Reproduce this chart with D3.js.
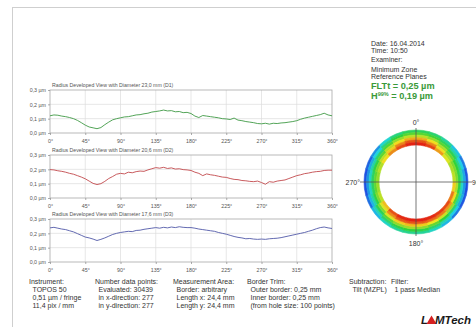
<!DOCTYPE html>
<html><head><meta charset="utf-8">
<script src="https://cdn.jsdelivr.net/npm/d3@7/dist/d3.min.js"></script>
<style>
html,body{margin:0;padding:0;background:#fff;}
svg{display:block;font-family:"Liberation Sans",Arial,sans-serif;}
</style></head>
<body>
<script>
// ---------- data ----------
const angles = d3.range(0, 361, 5);
const xTicks = [0,45,90,135,180,225,270,315,360];
const yTicks = [0,0.1,0.2,0.3];
const yTickLabels = ["0,0 µm","0,1 µm","0,2 µm","0,3 µm"];
const titles = [
  "Radius Developed View with Diameter 23,0 mm (D1)",
  "Radius Developed View with Diameter 20,6 mm (D2)",
  "Radius Developed View with Diameter 17,6 mm (D3)"
];
const d1 = [0.120,0.126,0.124,0.118,0.114,0.108,0.100,0.088,0.072,0.055,0.042,0.036,0.030,0.038,0.058,0.076,0.092,0.100,0.106,0.112,0.114,0.120,0.126,0.128,0.134,0.138,0.146,0.150,0.154,0.160,0.154,0.156,0.148,0.150,0.142,0.144,0.136,0.118,0.108,0.122,0.118,0.114,0.110,0.106,0.100,0.098,0.094,0.104,0.090,0.086,0.080,0.076,0.072,0.066,0.064,0.068,0.062,0.068,0.066,0.070,0.072,0.076,0.080,0.086,0.096,0.104,0.110,0.116,0.122,0.128,0.138,0.126,0.120];
const d2 = [0.198,0.196,0.190,0.186,0.180,0.172,0.166,0.156,0.146,0.134,0.118,0.102,0.094,0.100,0.116,0.136,0.150,0.166,0.172,0.168,0.180,0.176,0.184,0.188,0.186,0.196,0.204,0.212,0.208,0.214,0.206,0.210,0.202,0.204,0.198,0.196,0.192,0.180,0.172,0.156,0.168,0.162,0.158,0.152,0.146,0.144,0.136,0.130,0.128,0.122,0.120,0.116,0.114,0.118,0.108,0.096,0.114,0.110,0.118,0.122,0.126,0.136,0.146,0.156,0.162,0.170,0.174,0.180,0.184,0.186,0.192,0.194,0.194];
const d3v = [0.238,0.242,0.236,0.230,0.226,0.218,0.210,0.198,0.186,0.174,0.168,0.160,0.150,0.158,0.168,0.180,0.192,0.200,0.206,0.210,0.214,0.212,0.220,0.222,0.228,0.232,0.236,0.240,0.236,0.242,0.238,0.244,0.240,0.246,0.242,0.240,0.240,0.236,0.230,0.226,0.222,0.218,0.214,0.206,0.200,0.194,0.186,0.178,0.172,0.168,0.162,0.164,0.160,0.158,0.160,0.158,0.162,0.164,0.166,0.170,0.176,0.182,0.188,0.194,0.200,0.206,0.214,0.222,0.232,0.240,0.244,0.238,0.234];
const seriesColors = ["#3f9a45","#c2484c","#5159a8"];

// ring height map: 24 sectors (15°, clockwise from top) x 6 radial bands (outer -> inner), 0=blue .. 1=red
const ringSectors = d3.range(0, 360, 15);
const ringBand0 = [0.45,0.42,0.35,0.22,0.10,0.04,0.02,0.04,0.10,0.20,0.30,0.36,0.38,0.36,0.30,0.20,0.08,0.03,0.03,0.06,0.14,0.28,0.40,0.45];
const ringBand1 = [0.55,0.52,0.45,0.34,0.24,0.18,0.15,0.18,0.24,0.33,0.42,0.48,0.50,0.48,0.42,0.32,0.20,0.15,0.14,0.18,0.26,0.40,0.50,0.55];
const ringBand2 = [0.68,0.63,0.55,0.46,0.38,0.33,0.30,0.35,0.42,0.50,0.57,0.62,0.64,0.62,0.56,0.46,0.34,0.30,0.30,0.34,0.42,0.54,0.63,0.68];
const ringBand3 = [0.82,0.76,0.66,0.57,0.50,0.47,0.48,0.55,0.64,0.70,0.75,0.78,0.80,0.78,0.72,0.60,0.48,0.44,0.44,0.48,0.56,0.67,0.76,0.82];
const ringBand4 = [0.93,0.87,0.76,0.66,0.60,0.60,0.66,0.76,0.84,0.88,0.90,0.92,0.93,0.92,0.86,0.72,0.60,0.56,0.56,0.60,0.68,0.78,0.87,0.93];
const ringBand5 = [0.99,0.95,0.84,0.72,0.66,0.68,0.78,0.88,0.94,0.96,0.98,0.99,0.99,0.98,0.93,0.80,0.68,0.64,0.63,0.67,0.76,0.86,0.94,0.99];
const ringBands = [ringBand0,ringBand1,ringBand2,ringBand3,ringBand4,ringBand5];
const ringLabels = ["0°","90°","180°","270°"];

const infoLines = ["Date: 16.04.2014","Time: 10:50","Examiner:","Minimum Zone","Reference Planes"];
const footer = [
  {x:29, head:"Instrument:", lines:["TOPOS 50","0,51 µm / fringe","11,4 pix / mm"]},
  {x:95, head:"Number data points:", lines:["Evaluated: 30439","in x-direction: 277","in y-direction: 277"]},
  {x:173, head:"Measurement Area:", lines:["Border: arbitrary","Length x: 24,4 mm","Length y: 24,4 mm"]},
  {x:247, head:"Border Trim:", lines:["Outer border: 0,25 mm","Inner border: 0,25 mm","(from hole size: 100 points)"]},
  {x:349, head:"Subtraction:", lines:["Tilt (MZPL)"]},
  {x:391, head:"Filter:", lines:["1 pass Median"]}
];

// ---------- drawing ----------
const W = 476, H = 327;
const svg = d3.select("body").append("svg").attr("width", W).attr("height", H);

// page frame
svg.append("rect").attr("x",12.5).attr("y",7.5).attr("width",600).attr("height",400)
  .attr("fill","none").attr("stroke","#cfcfcf").attr("stroke-width",1);

const x = d3.scaleLinear().domain([0,360]).range([50,332]);
const plotTops = [90,155,219];
const plotH = 43;
const allSeries = [d1,d2,d3v];

plotTops.forEach((top,i)=>{
  const y = d3.scaleLinear().domain([0,0.3]).range([top+plotH, top]);
  const g = svg.append("g");
  g.selectAll(".vg").data(xTicks.slice(1,-1)).join("line")
    .attr("x1",d=>x(d)).attr("x2",d=>x(d)).attr("y1",top).attr("y2",top+plotH)
    .attr("stroke","#dcdcdc").attr("stroke-width",0.7);
  g.selectAll(".hg").data(yTicks.slice(1,-1)).join("line")
    .attr("x1",x(0)).attr("x2",x(360)).attr("y1",d=>y(d)).attr("y2",d=>y(d))
    .attr("stroke","#dcdcdc").attr("stroke-width",0.7);
  g.append("rect").attr("x",x(0)).attr("y",top).attr("width",x(360)-x(0)).attr("height",plotH)
    .attr("fill","none").attr("stroke","#a8a8a8").attr("stroke-width",0.8);
  const ax = d3.axisBottom(x).tickValues(xTicks).tickSize(2).tickFormat(d=>d+"°");
  const axg = g.append("g").attr("transform",`translate(0,${top+plotH})`).call(ax);
  const ay = d3.axisLeft(y).tickValues(yTicks).tickSize(2).tickFormat((d,k)=>yTickLabels[k]);
  const ayg = g.append("g").attr("transform",`translate(${x(0)},0)`).call(ay);
  [axg,ayg].forEach(a=>{
    a.select(".domain").remove();
    a.selectAll("line").attr("stroke","#888").attr("stroke-width",0.7);
    a.selectAll("text").attr("fill","#555").style("font-size","5.3px")
      .style("font-family","'Liberation Sans',Arial,sans-serif");
  });
  axg.selectAll("text").attr("dy","0.9em");
  ayg.selectAll("text").attr("x",-4);
  g.append("text").attr("x",x(0)+2).attr("y",top-3).text(titles[i])
    .attr("fill","#555").style("font-size","5.2px");
  const line = d3.line().x((d,k)=>x(angles[k])).y(d=>y(d)).curve(d3.curveLinear);
  g.append("path").datum(allSeries[i]).attr("d",line).attr("fill","none")
    .attr("stroke",seriesColors[i]).attr("stroke-width",0.9);
});

// info text
const info = svg.append("g").attr("fill","#333").style("font-size","7px");
const infoY = [46,53,61.5,72,79];
infoLines.forEach((t,k)=>info.append("text").attr("x",371).attr("y",infoY[k]).text(t));
svg.append("text").attr("x",371).attr("y",89).attr("fill","#3a9a3a")
  .style("font-size","9.2px").style("font-weight","bold").text("FLTt = 0,25 µm");
const h = svg.append("text").attr("x",371).attr("y",99).attr("fill","#3a9a3a")
  .style("font-size","9.2px").style("font-weight","bold");
h.append("tspan").text("H");
h.append("tspan").attr("dy",-3).style("font-size","5.5px").text("99%");
h.append("tspan").attr("dy",3).text(" = 0,19 µm");

// ring
const cx = 416, cy = 182, rOuter = 52, rInner = 37;
const rScale = d3.scaleLinear().domain([0, ringBands.length]).range([rOuter, rInner]);
const color = d3.scaleLinear().domain([0,0.25,0.5,0.75,1])
  .range(["#1f3fe0","#1ed4e6","#2fd23a","#f2e51e","#e21a12"]);
const cells = [];
ringBands.forEach((band,b)=>band.forEach((v,s)=>cells.push({b,s,v})));
const arc = d3.arc()
  .innerRadius(d=>rScale(d.b+1)).outerRadius(d=>rScale(d.b))
  .startAngle(d=>ringSectors[d.s]*Math.PI/180)
  .endAngle(d=>(ringSectors[d.s]+15)*Math.PI/180);
const rg = svg.append("g").attr("transform",`translate(${cx},${cy})`);
rg.selectAll("path").data(cells).join("path").attr("d",arc)
  .attr("fill",d=>color(d.v)).attr("stroke",d=>color(d.v)).attr("stroke-width",0.6);
rg.append("line").attr("x1",-56).attr("x2",56).attr("y1",0).attr("y2",0).attr("stroke","#555").attr("stroke-width",0.8);
rg.append("line").attr("x1",0).attr("x2",0).attr("y1",-54).attr("y2",54).attr("stroke","#555").attr("stroke-width",0.8);
const lab = rg.append("g").attr("fill","#333").style("font-size","7px");
lab.append("text").attr("x",0).attr("y",-57).attr("text-anchor","middle").text(ringLabels[0]);
lab.append("text").attr("x",56).attr("y",2.5).attr("text-anchor","start").style("font-size","6.5px").text(ringLabels[1]);
lab.append("text").attr("x",0).attr("y",64).attr("text-anchor","middle").text(ringLabels[2]);
lab.append("text").attr("x",-56).attr("y",2.5).attr("text-anchor","end").text(ringLabels[3]);

// footer
const ft = svg.append("g").attr("fill","#333").style("font-size","7px");
footer.forEach(c=>{
  ft.append("text").attr("x",c.x).attr("y",284).text(c.head);
  c.lines.forEach((t,k)=>ft.append("text").attr("x",c.x+3.5).attr("y",292+k*8).text(t));
});

// logo
const logo = svg.append("g").style("font-size","11.5px").style("font-weight","bold").style("font-style","italic");
logo.append("text").attr("x",421).attr("y",324).attr("fill","#1a1a1a").text("L");
logo.append("path").attr("d","M426.5,324 L431.5,315.5 L436.5,324 Z").attr("fill","#d42020");
logo.append("text").attr("x",435).attr("y",324).attr("fill","#1a1a1a").text("MTech");
</script>
</body></html>
